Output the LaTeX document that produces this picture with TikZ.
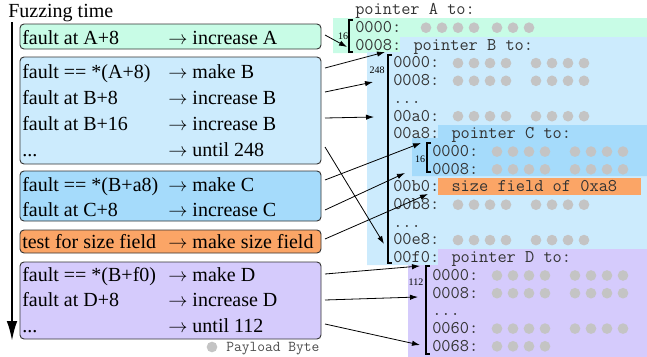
\documentclass[tikz,border=0pt]{standalone}
\usepackage{fontspec}
\setmainfont{Liberation Serif}
\usetikzlibrary{arrows.meta}
\definecolor{cmint}{HTML}{C8FCE6}
\definecolor{clblue}{HTML}{CCEBFD}
\definecolor{cblue}{HTML}{A5DBFB}
\definecolor{corange}{HTML}{FBA566}
\definecolor{clav}{HTML}{D5CBFC}
\definecolor{cgray}{HTML}{C4C4C4}
\newcommand\mydots{...}
\newcommand\bytesrow[4]{% #1 first x, #2 row, #3 n1, #4 n2
  \foreach \k in {1,...,#3}{\fill[cgray] ({#1+16*(\k-1)},{32.5+17.7*#2-4.8}) circle[radius=4pt];}
  \ifnum#4>0
  \foreach \k in {1,...,#4}{\fill[cgray] ({#1+78+16*(\k-1)},{32.5+17.7*#2-4.8}) circle[radius=4pt];}
  \fi}
\begin{document}
\begin{tikzpicture}[x=0.75pt,y=-0.75pt,
  serif/.style={font=\fontsize{15}{18}\selectfont, inner sep=0pt, anchor=base west},
  mono/.style={font=\fontsize{13.4}{15}\ttfamily, inner sep=0pt, anchor=base west, text=black!80},
  stepbox/.style={draw=black!80, rounded corners=3pt, line width=0.7pt},
  conn/.style={-{Latex[length=6pt,width=4pt]}, line width=0.6pt},
  brk/.style={line width=0.8pt},
  num/.style={font=\fontsize{7.5}{8}\selectfont, inner sep=0pt}]
\useasboundingbox (0,0) rectangle (647,357);

% ---------- right side backgrounds
\fill[cmint] (333,18) -- (647,18) -- (647,37) -- (400,37) -- (400,53) -- (333,53) -- cycle;
\fill[clblue] (400,37) -- (647,37) -- (647,265) -- (367,265) -- (367,52) -- (400,52) -- cycle;
\fill[cblue] (438,125) -- (647,125) -- (647,176) -- (412,176) -- (412,138) -- (438,138) -- cycle;
\fill[corange] (438,178) rectangle (641,195);
\fill[clav] (438,249) -- (647,249) -- (647,357) -- (408,357) -- (408,265) -- (438,265) -- cycle;

% ---------- memory rows
\foreach \i/\x/\t in {-1/355/pointer A to:, 0/355/0000:, 1/355/0008: pointer B to:,
  2/393/0000:, 3/393/0008:, 4/393/\mydots, 5/393/00a0:, 6/393/00a8: pointer C to:,
  7/432/0000:, 8/432/0008:, 9/393/00b0: size field of 0xa8, 10/393/00b8:, 11/393/\mydots,
  12/393/00e8:, 13/393/00f0: pointer D to:, 14/432/0000:, 15/432/0008:, 16/432/\mydots,
  17/432/0060:, 18/432/0068:}
  {\node[mono] (r\i) at ({\x},{32.5+17.7*\i}) {\t};}

\bytesrow{426}{0}{4}{0}
\foreach \k in {1,2,3}{\fill[cgray] ({497+16*(\k-1)},{32.5-4.8}) circle[radius=4pt];}
\bytesrow{458}{2}{4}{4}
\bytesrow{458}{3}{4}{4}
\bytesrow{458}{5}{4}{4}
\bytesrow{497}{7}{4}{4}
\bytesrow{497}{8}{4}{4}
\bytesrow{458}{10}{4}{4}
\bytesrow{458}{12}{4}{4}
\bytesrow{497}{14}{4}{4}
\bytesrow{497}{15}{4}{4}
\bytesrow{497}{17}{4}{4}
\bytesrow{497}{18}{4}{0}

% ---------- brackets
\draw[brk] (353,20) -- (349,20) -- (349,52) -- (353,52);
\node[num] (nA) at (343,36) {16};
\draw[brk] (392,55) -- (388,55) -- (388,263) -- (392,263);
\node[num] (nB) at (377,70) {248};
\draw[brk] (431,143) -- (427,143) -- (427,172) -- (431,172);
\node[num] (nC) at (420,159) {16};
\draw[brk] (430,266) -- (426,266) -- (426,354) -- (430,354);
\node[num] (nD) at (416,282) {112};

% ---------- left side
\node[serif] (title) at (8,17) {Fuzzing time};
\coordinate (tTop) at (12,22);
\coordinate (tBot) at (12,341);
\draw[line width=1.6pt, -{Latex[length=15pt,width=8pt]}] (tTop) -- (tBot);

\draw[stepbox, fill=cmint] (20,24) rectangle (321,49);
\draw[stepbox, fill=clblue] (20,57) rectangle (321,164);
\draw[stepbox, fill=cblue] (20,171) rectangle (321,221);
\draw[stepbox, fill=corange] (20,230) rectangle (321,253);
\draw[stepbox, fill=clav] (20,262) rectangle (321,339);

\foreach \n/\y/\a/\b in {
  l1/44/fault at A+8/increase A,
  l2/78/fault == *(A+8)/make B,
  l3/104/fault at B+8/increase B,
  l4/130/fault at B+16/increase B,
  l5/156/\mydots/until 248,
  l6/191/fault == *(B+a8)/make C,
  l7/216/fault at C+8/increase C,
  l8/248/test for size field/make size field,
  l9/281/fault == *(B+f0)/make D,
  l10/306/fault at D+8/increase D,
  l11/332/\mydots/until 112}
  {\node[serif] (\n a) at (22,\y) {\a};
   \node[serif] (\n b) at (168,\y) {$\rightarrow$ \b};}

% ---------- connectors
\coordinate (s1) at (325,35);  \coordinate (e1) at (347,47);
\coordinate (s2) at (325,68);  \coordinate (e2) at (385,52);
\coordinate (s3) at (325,92);  \coordinate (e3) at (373,82);
\coordinate (s4) at (325,118); \coordinate (e4) at (374,117);
\coordinate (s5) at (325,147); \coordinate (e5) at (384,244);
\coordinate (s6) at (325,180); \coordinate (e6) at (421,143);
\coordinate (s7) at (325,210); \coordinate (e7) at (405,173);
\coordinate (s8) at (325,239); \coordinate (e8) at (428,194);
\coordinate (s9) at (325,274); \coordinate (e9) at (420,266);
\coordinate (s10) at (325,300); \coordinate (e10) at (418,297);
\coordinate (s11) at (325,324); \coordinate (e11) at (420,345);
\foreach \j in {1,...,11}{\draw[conn] (s\j) -- (e\j);}

% ---------- legend
\fill[cgray] (212,347) circle[radius=4pt];
\node[font=\fontsize{11.3}{12}\ttfamily, text=black!70, inner sep=0pt, anchor=base west] (legend) at (226,351) {Payload Byte};
\end{tikzpicture}
\end{document}
